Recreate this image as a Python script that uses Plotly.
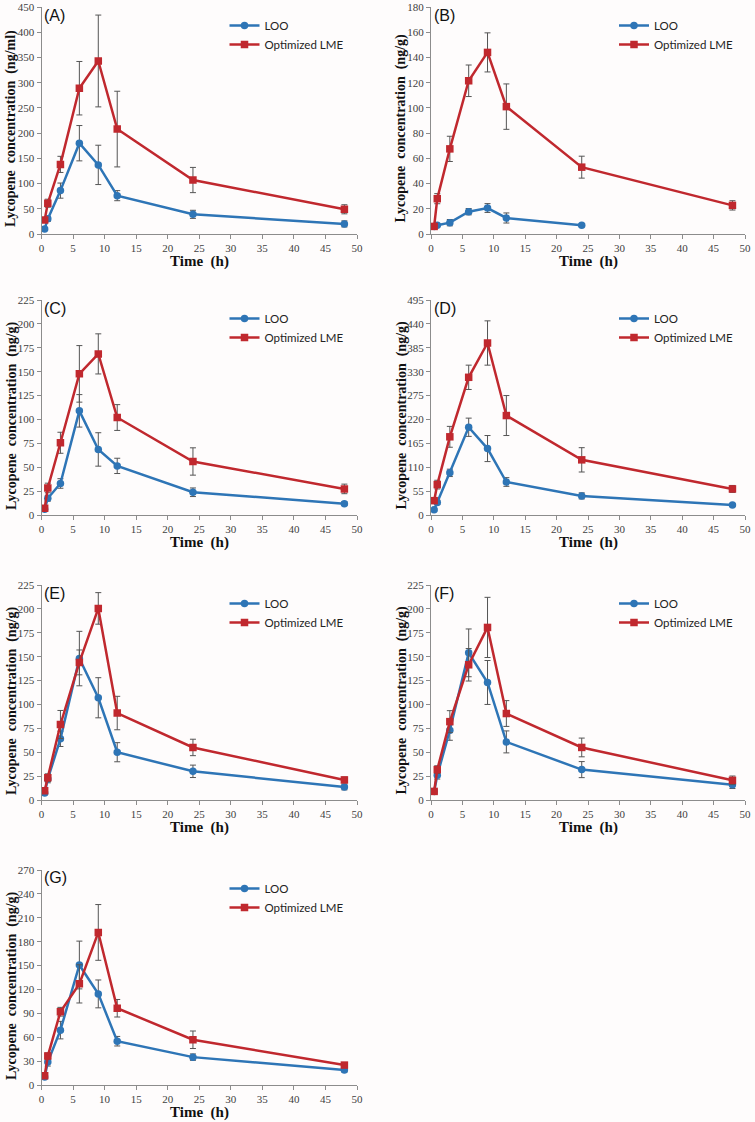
import plotly.graph_objects as go

# sampling times (h)
time_h = [0.5, 1, 3, 6, 9, 12, 24, 48]

# (A) plasma, ng/ml
loo_a = [10, 30, 86, 180, 137, 76, 39, 20]
loo_a_sd = [3, 5, 15, 35, 39, 10, 8, 6]
lme_a = [28, 61, 138, 289, 343, 208, 107, 49]
lme_a_sd = [4, 8, 16, 53, 91, 75, 25, 9]

# (B) ng/g  (LOO not detected at 48 h)
loo_b = [6, 7, 9, 17.7, 20.6, 12.7, 6.9, None]
loo_b_sd = [1, 1, 2.5, 2.5, 3.5, 4, 1, None]
lme_b = [6, 28, 67.5, 121.5, 144, 101, 53, 22.7]
lme_b_sd = [1, 4, 10, 12.5, 15.5, 18, 8.7, 3.7]

# (C)
loo_c = [6, 17.5, 33, 109, 68.6, 51.4, 23.8, 11.9]
loo_c_sd = [1, 3, 5, 17, 17.5, 8, 4.5, 2]
lme_c = [7, 28.3, 75.6, 147.7, 168.6, 102, 56, 27.3]
lme_c_sd = [1, 5, 11, 29.6, 21, 13.5, 14.3, 5]

# (D)
loo_d = [12, 29, 97, 202, 153, 76, 44, 23]
loo_d_sd = [3, 5, 8.5, 21, 30, 10, 7, 3]
lme_d = [33, 70, 180, 317, 396, 229, 127, 60]
lme_d_sd = [4, 10, 24, 28, 51, 46, 28, 8]

# (E)
loo_e = [7.3, 22, 64, 148, 107, 50, 30, 13.6]
loo_e_sd = [2, 4, 8, 28.5, 21, 10, 6.5, 3]
lme_e = [9.8, 23.4, 79, 144, 200.5, 91, 55, 21]
lme_e_sd = [2, 4, 14.7, 13, 16.5, 17.5, 8.6, 3]

# (F)
loo_f = [9, 25.9, 73, 154, 123, 60.8, 31.8, 16]
loo_f_sd = [2, 4, 10.5, 25, 23, 11.5, 8.4, 4]
lme_f = [9, 31.8, 82, 141.5, 180.6, 90.5, 55, 20.6]
lme_f_sd = [2, 4, 11.5, 17, 31.5, 13.5, 9.8, 4.5]

# (G)
loo_g = [10, 28.8, 68.9, 150.7, 114.4, 55, 35, 18.8]
loo_g_sd = [2, 5, 11, 30, 17.5, 6, 4, 2.5]
lme_g = [11.7, 36.3, 92, 127, 191.6, 96.4, 56.8, 25]
lme_g_sd = [2, 4, 5.5, 24, 35, 11, 11, 3]

panel_labels = ["(A)", "(B)", "(C)", "(D)", "(E)", "(F)", "(G)"]
y_units = ["(ng/ml)", "(ng/g)", "(ng/g)", "(ng/g)", "(ng/g)", "(ng/g)", "(ng/g)"]
y_max = [450, 180, 225, 495, 225, 225, 270]
y_step = [50, 20, 25, 55, 25, 25, 30]
series_names = ["LOO", "Optimized LME"]

loo_all = [(loo_a, loo_a_sd), (loo_b, loo_b_sd), (loo_c, loo_c_sd), (loo_d, loo_d_sd),
           (loo_e, loo_e_sd), (loo_f, loo_f_sd), (loo_g, loo_g_sd)]
lme_all = [(lme_a, lme_a_sd), (lme_b, lme_b_sd), (lme_c, lme_c_sd), (lme_d, lme_d_sd),
           (lme_e, lme_e_sd), (lme_f, lme_f_sd), (lme_g, lme_g_sd)]

W, H = 755, 1122
BLUE = "#2E75B6"
RED = "#C0282E"
SERIF = "Liberation Serif, Times New Roman, serif"
SANS = "Lato, Liberation Sans, Arial, sans-serif"

# plot areas in pixels: (left, right, top, bottom)
cols = [(41.5, 357), (431, 745)]
rows = [(7, 234), (300, 515), (585, 800), (870, 1085)]

fig = go.Figure()
layout = {}

for i in range(7):
    n = i + 1
    l, r = cols[i % 2]
    t, b = rows[i // 2]
    xa = "xaxis" if n == 1 else f"xaxis{n}"
    ya = "yaxis" if n == 1 else f"yaxis{n}"
    xr = "x" if n == 1 else f"x{n}"
    yr = "y" if n == 1 else f"y{n}"
    lg = "legend" if n == 1 else f"legend{n}"

    for (vals, sd), name, col, sym, msize in [
        (loo_all[i], series_names[0], BLUE, "circle", 7.5),
        (lme_all[i], series_names[1], RED, "square", 7.5),
    ]:
        fig.add_trace(go.Scatter(
            x=time_h, y=vals, name=name, mode="lines+markers",
            line=dict(color=col, width=2.5),
            marker=dict(color=col, symbol=sym, size=msize),
            error_y=dict(type="data", array=sd, color="#555555", thickness=1, width=3),
            xaxis=xr, yaxis=yr, legend=lg, showlegend=True,
        ))

    common = dict(showgrid=False, zeroline=False, showline=True, linecolor="#8c8c8c",
                  linewidth=1, ticks="outside", ticklen=4, tickcolor="#8c8c8c",
                  automargin=False,
                  tickfont=dict(family=SERIF, size=11, color="#404040"))
    layout[xa] = dict(common, domain=[l / W, r / W], range=[0, 50], dtick=5,
                      anchor=yr, fixedrange=True)
    layout[ya] = dict(common, domain=[1 - b / H, 1 - t / H], range=[0, y_max[i]],
                      dtick=y_step[i], anchor=xr, fixedrange=True)

    layout[lg] = dict(x=(l + 183) / W, y=1 - (t + 4) / H, xanchor="left", yanchor="top",
                      bgcolor="rgba(0,0,0,0)", itemwidth=30,
                      font=dict(family=SANS, size=11.5, color="#222222"))

    fig.add_annotation(text=panel_labels[i], xref="paper", yref="paper",
                       x=(l + 0.5) / W, y=1 - (t + 8) / H, xanchor="left", yanchor="middle",
                       showarrow=False, font=dict(family="Liberation Sans, Arial", size=16, color="#111111"))
    fig.add_annotation(text="<b>Time  (h)</b>", xref="paper", yref="paper",
                       x=(l + r) / 2 / W, y=1 - (b + 27.5) / H, xanchor="center", yanchor="middle",
                       showarrow=False, font=dict(family=SERIF, size=15, color="#111111"))
    fig.add_annotation(text=f"<b>Lycopene  concentration  {y_units[i]}</b>", xref="paper", yref="paper",
                       x=(l - 30) / W, y=1 - ((t + b) / 2 + 8) / H, xanchor="center", yanchor="middle",
                       textangle=-90, showarrow=False,
                       font=dict(family=SERIF, size=14, color="#111111"))

fig.update_layout(**layout)
fig.update_layout(width=W, height=H, margin=dict(l=0, r=0, t=0, b=0),
                  paper_bgcolor="#fefcfc", plot_bgcolor="#fefcfc")

# drop the browser's default 8px body margin so the figure sits at the page corner
fig.write_html("out.html", config={"displayModeBar": False},
               post_script="document.body.style.margin='0';")
